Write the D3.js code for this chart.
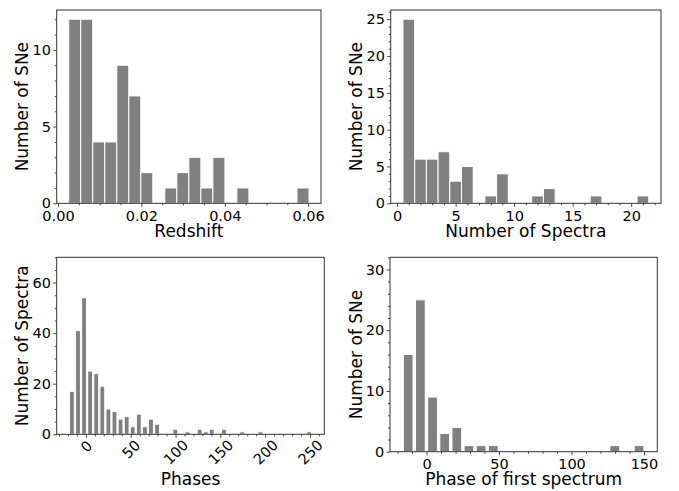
<!DOCTYPE html>
<html>
<head>
<meta charset="utf-8">
<script src="https://cdn.jsdelivr.net/npm/d3@7"></script>
<style>
  body { margin: 0; background: #fff; }
  svg { display: block; }
  text { font-family: "DejaVu Sans", sans-serif; fill: #000; }
</style>
</head>
<body>
<svg id="fig" width="679" height="491"></svg>
<script>
// Histogram data: outer bin edges and the count in each equal-width bin
const redshiftEdges = [0.00257, 0.0602];
const redshiftCounts = [12, 12, 4, 4, 9, 7, 2, 0, 1, 2, 3, 1, 3, 0, 1, 0, 0, 0, 0, 1];

const spectraEdges = [0.5, 21.5];
const spectraCounts = [25, 6, 6, 7, 3, 5, 0, 1, 4, 0, 0, 1, 2, 0, 0, 0, 1, 0, 0, 0, 1];

const phaseEdges = [-19.0, 252.4];
const phaseCounts = [17, 41, 54, 25, 24, 19, 10, 9, 6, 7, 3, 8, 3, 6, 4, 0, 0, 2, 0, 1,
                     0, 2, 1, 2, 0, 2, 0, 0, 1, 0, 0, 1, 0, 0, 0, 0, 0, 0, 0, 1];

const firstPhaseEdges = [-16.8, 150.8];
const firstPhaseCounts = [16, 25, 9, 3, 4, 1, 1, 1, 0, 0, 0, 0, 0, 0, 0, 0, 0, 1, 0, 1];

// Tick values
const redshiftTicks = [0, 0.02, 0.04, 0.06];
const redshiftYTicks = [0, 5, 10];
const spectraTicks = [0, 5, 10, 15, 20];
const spectraYTicks = [0, 5, 10, 15, 20, 25];
const phaseTicks = [0, 50, 100, 150, 200, 250];
const phaseYTicks = [0, 20, 40, 60];
const firstPhaseTicks = [0, 50, 100, 150];
const firstPhaseYTicks = [0, 10, 20, 30];

// Axis titles
const xTitles = ["Redshift", "Number of Spectra", "Phases", "Phase of first spectrum"];
const yTitles = ["Number of SNe", "Number of SNe", "Number of Spectra", "Number of SNe"];

const svg = d3.select("#fig");
const SPINE = "#333";
const TICK_FONT = 14.5;
const LABEL_FONT = 17;

const panels = [
  { counts: redshiftCounts, edges: redshiftEdges, xTicks: redshiftTicks, xFmt: d3.format(".2f"),
    xMinor: 0.005, yTicks: redshiftYTicks, yMinor: 1, yMax: null, rwidth: 1, rotate: false,
    box: { left: 56.7, right: 321, top: 10, bottom: 203.3 }, yTitleX: 28, xTitleY: 237,
    xTitle: xTitles[0], yTitle: yTitles[0] },
  { counts: spectraCounts, edges: spectraEdges, xTicks: spectraTicks, xFmt: d3.format("d"),
    xMinor: 1, yTicks: spectraYTicks, yMinor: 1, yMax: null, rwidth: 1, rotate: false,
    box: { left: 390.7, right: 661, top: 10, bottom: 203.3 }, yTitleX: 361.7, xTitleY: 237,
    xTitle: xTitles[1], yTitle: yTitles[1] },
  { counts: phaseCounts, edges: phaseEdges, xTicks: phaseTicks, xFmt: d3.format("d"),
    xMinor: 10, yTicks: phaseYTicks, yMinor: 5, yMax: 70, rwidth: 0.8, rotate: true,
    box: { left: 56.7, right: 324.3, top: 257.3, bottom: 434.3 }, yTitleX: 28, xTitleY: 485,
    xTitle: xTitles[2], yTitle: yTitles[2] },
  { counts: firstPhaseCounts, edges: firstPhaseEdges, xTicks: firstPhaseTicks, xFmt: d3.format("d"),
    xMinor: 10, yTicks: firstPhaseYTicks, yMinor: 2, yMax: 32, rwidth: 0.8, rotate: false,
    box: { left: 390, right: 657.3, top: 257.3, bottom: 451.7 }, yTitleX: 361.7, xTitleY: 485,
    xTitle: xTitles[3], yTitle: yTitles[3] }
];

// Minor tick positions inside [lo, hi] that do not coincide with a major tick
function minorTicks(lo, hi, step, majors) {
  const out = [];
  const k0 = Math.ceil(lo / step - 1e-9), k1 = Math.floor(hi / step + 1e-9);
  for (let k = k0; k <= k1; k++) {
    const v = +(k * step).toFixed(10);
    if (!majors.some(m => Math.abs(m - v) < step * 1e-6)) out.push(v);
  }
  return out;
}

function styleAxis(g) {
  g.select(".domain").remove();
  g.selectAll(".tick line").attr("stroke", SPINE).attr("stroke-width", 0.9);
  g.selectAll(".tick text").attr("font-size", TICK_FONT).attr("font-family", "DejaVu Sans").attr("fill", "#000");
}

panels.forEach(p => {
  const n = p.counts.length;
  const lo = p.edges[0], hi = p.edges[1];
  const w = (hi - lo) / n;
  const span = hi - lo;
  // 5% horizontal margins around the outer bin edges
  const x = d3.scaleLinear().domain([lo - 0.05 * span, hi + 0.05 * span]).range([p.box.left, p.box.right]);
  const yMax = p.yMax != null ? p.yMax : d3.max(p.counts) * 1.05;
  const y = d3.scaleLinear().domain([0, yMax]).range([p.box.bottom, p.box.top]);

  const g = svg.append("g");

  // Bars
  g.selectAll("rect.bar")
    .data(p.counts.map((c, i) => ({ c, i })).filter(d => d.c > 0))
    .join("rect")
    .attr("class", "bar")
    .attr("x", d => x(lo + (d.i + 0.5) * w - w * p.rwidth / 2))
    .attr("width", d => x(lo + (d.i + 0.5) * w + w * p.rwidth / 2) - x(lo + (d.i + 0.5) * w - w * p.rwidth / 2))
    .attr("y", d => y(d.c))
    .attr("height", d => y(0) - y(d.c))
    .attr("fill", "#808080")
    .attr("stroke", "#fff")
    .attr("stroke-width", 1);

  const xd = x.domain(), yd = y.domain();

  // Minor ticks
  g.append("g").attr("transform", `translate(0,${p.box.bottom})`)
    .call(d3.axisBottom(x).tickValues(minorTicks(xd[0], xd[1], p.xMinor, p.xTicks)).tickSize(2).tickFormat(""))
    .call(styleAxis);
  g.append("g").attr("transform", `translate(${p.box.left},0)`)
    .call(d3.axisLeft(y).tickValues(minorTicks(yd[0], yd[1], p.yMinor, p.yTicks)).tickSize(2).tickFormat(""))
    .call(styleAxis);

  // Major ticks
  const xa = g.append("g").attr("transform", `translate(0,${p.box.bottom})`)
    .call(d3.axisBottom(x).tickValues(p.xTicks).tickFormat(p.xFmt).tickSize(3.5).tickPadding(3.5))
    .call(styleAxis);
  if (p.rotate) {
    xa.selectAll(".tick text").each(function () {
      const t = d3.select(this);
      const tw = this.getComputedTextLength();
      const cy = 9.5 + 0.3 * tw;
      t.attr("y", null).attr("dy", null)
        .attr("text-anchor", "middle")
        .attr("dominant-baseline", "central")
        .attr("transform", `translate(0,${cy}) rotate(-45)`);
    });
  }
  g.append("g").attr("transform", `translate(${p.box.left},0)`)
    .call(d3.axisLeft(y).tickValues(p.yTicks).tickFormat(d3.format("d")).tickSize(3.5).tickPadding(2.3))
    .call(styleAxis);

  // Frame
  g.append("rect")
    .attr("x", p.box.left).attr("y", p.box.top)
    .attr("width", p.box.right - p.box.left).attr("height", p.box.bottom - p.box.top)
    .attr("fill", "none").attr("stroke", SPINE).attr("stroke-width", 1);

  // Axis titles
  g.append("text")
    .attr("x", (p.box.left + p.box.right) / 2).attr("y", p.xTitleY)
    .attr("text-anchor", "middle").attr("font-size", LABEL_FONT)
    .text(p.xTitle);
  g.append("text")
    .attr("transform", `translate(${p.yTitleX},${(p.box.top + p.box.bottom) / 2}) rotate(-90)`)
    .attr("text-anchor", "middle").attr("font-size", LABEL_FONT)
    .text(p.yTitle);
});
</script>
</body>
</html>
